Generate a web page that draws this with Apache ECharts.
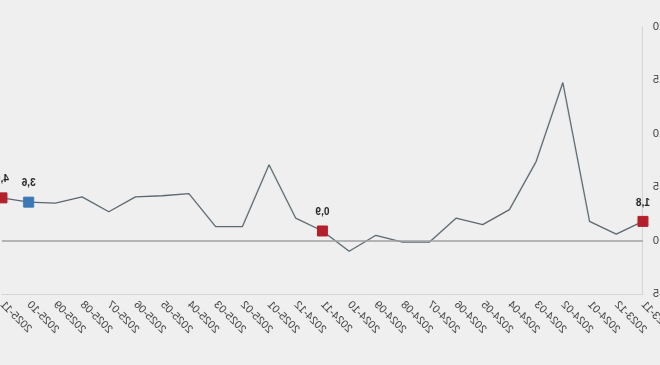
<!DOCTYPE html>
<html>
<head>
<meta charset="utf-8">
<script src="https://cdn.jsdelivr.net/npm/echarts@6/dist/echarts.min.js"></script>
<style>
html,body{margin:0;padding:0;background:#efefef;}
#c{width:660px;height:365px;transform:scaleX(-1);}
</style>
</head>
<body>
<div id="c"></div>
<script>
const categories = ['2023-11','2023-12','2024-01','2024-02','2024-03','2024-04','2024-05','2024-06','2024-07','2024-08','2024-09','2024-10','2024-11','2024-12','2025-01','2025-02','2025-03','2025-04','2025-05','2025-06','2025-07','2025-08','2025-09','2025-10','2025-11'];
const values = [1.8, 0.6, 1.8, 14.8, 7.4, 2.9, 1.5, 2.1, -0.15, -0.15, 0.5, -1.0, 0.9, 2.1, 7.1, 1.3, 1.3, 4.4, 4.2, 4.1, 2.7, 4.1, 3.5, 3.6, 4.0];
const highlighted = {'2023-11':'#b3202b','2024-11':'#b3202b','2025-10':'#3b78b4','2025-11':'#b3202b'};
const yTicks = {min:-5, max:20, interval:5};

const data = values.map((v,i)=>{
  const col = highlighted[categories[i]];
  if(!col) return {value:v, symbol:'none'};
  return {
    value:v, symbol:'rect', symbolSize:10,
    itemStyle:{color:col, borderColor:col},
    label:{show:true, position:'top', distance:8,
      formatter:p=>p.value.toFixed(1).replace('.',','),
      fontSize:10, fontWeight:'bold', color:'#222', fontFamily:'Liberation Sans'}
  };
});

const chart = echarts.init(document.getElementById('c'));
chart.setOption({
  backgroundColor:'#efefef',
  animation:false,
  grid:{left:17, right:2, top:27, bottom:71, containLabel:false, outerBoundsMode:'none'},
  xAxis:{
    type:'category', data:categories, boundaryGap:false,
    axisLine:{onZero:false, lineStyle:{color:'#d4d4d4', width:1}},
    axisTick:{show:false},
    axisLabel:{rotate:45, fontSize:11, color:'#3a3a3a', margin:9, fontFamily:'Liberation Sans', interval:0}
  },
  yAxis:{
    type:'value', min:yTicks.min, max:yTicks.max, interval:yTicks.interval,
    axisLine:{show:true, lineStyle:{color:'#d4d4d4', width:1}},
    axisTick:{show:false},
    splitLine:{show:false},
    axisLabel:{fontSize:11, color:'#3a3a3a', margin:10, fontFamily:'Liberation Sans'}
  },
  series:[{
    type:'line', data:data, showSymbol:true,
    lineStyle:{color:'#5c6870', width:1.3},
    itemStyle:{color:'#5c6870'},
    z:3,
    markLine:{silent:true, symbol:'none', label:{show:false},
      lineStyle:{color:'#a0a0a0', width:1.5, type:'solid'},
      data:[{yAxis:0}]}
  }]
});
</script>
</body>
</html>
